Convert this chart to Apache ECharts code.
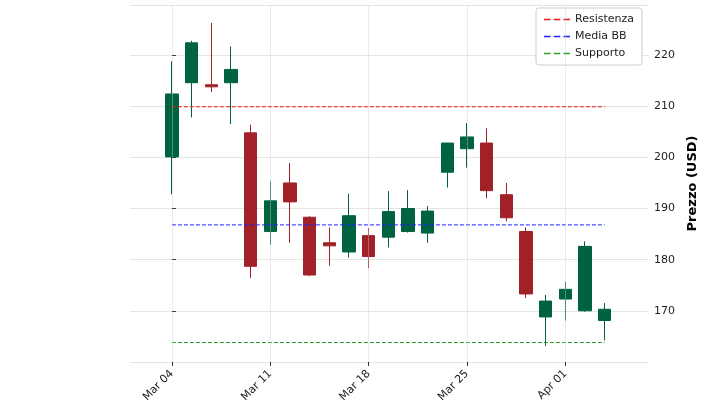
<!DOCTYPE html>
<html><head><meta charset="utf-8">
<script src="https://cdn.jsdelivr.net/npm/echarts@6/dist/echarts.min.js"></script>
<style>html,body{margin:0;padding:0;background:#fff}#c{width:720px;height:405px}</style>
</head><body><div id="c"></div>
<script>
const dates = ["Mar 04","Mar 05","Mar 06","Mar 07","Mar 08","Mar 11","Mar 12","Mar 13","Mar 14","Mar 15","Mar 18","Mar 19","Mar 20","Mar 21","Mar 22","Mar 25","Mar 26","Mar 27","Mar 28","Mar 29","Apr 01","Apr 02","Apr 03"];
const opens  = [200.5,215.0,214.6,215.0,205.2,185.9,195.4,188.7,183.7,181.9,185.1,184.8,185.9,185.6,197.5,202.1,203.2,193.1,185.9,169.2,172.7,170.4,168.5];
const closes = [212.8,222.8,214.2,217.6,179.1,191.9,191.7,177.4,183.1,189.0,181.0,189.8,190.4,189.9,203.2,204.4,193.9,188.6,173.7,172.3,174.6,183.0,170.7];
const lows   = [193.2,208.2,213.2,206.9,176.8,183.3,183.7,177.2,179.2,180.8,178.7,182.8,185.7,183.7,194.5,198.4,192.4,187.9,172.9,163.5,168.5,170.2,164.6];
const highs  = [219.2,223.2,226.7,222.1,206.8,195.7,199.3,188.9,186.7,193.3,186.6,193.8,194.0,190.9,203.2,207.1,206.1,195.4,186.7,173.5,176.0,184.0,171.9];
const resistenza = 210.3, mediaBB = 187.2, supporto = 164.2;
const tickIdx = [0,5,10,15,20];

const green = '#006340', red = '#A02128';
const data = dates.map((d,i)=>({value:[i,opens[i],closes[i],lows[i],highs[i]],
  itemStyle:{}}));
const hline = v => [[0,v],[dates.length-1,v]];
const chart = echarts.init(document.getElementById('c'));
chart.setOption({
  animation:false,
  grid:{left:130,right:72,top:5,bottom:37},
  legend:{right:78,top:8,orient:'vertical',itemGap:6,itemWidth:26,itemHeight:2,
    backgroundColor:'#fff',borderColor:'#ccc',borderWidth:1,borderRadius:3,padding:[6,8],
    textStyle:{fontFamily:'DejaVu Sans',fontSize:11,color:'#222'},
    data:[{name:'Resistenza',icon:'path://M0,0H4V1H0ZM6,0H10V1H6ZM12,0H16V1H12Z'},{name:'Media BB',icon:'path://M0,0H4V1H0ZM6,0H10V1H6ZM12,0H16V1H12Z'},{name:'Supporto',icon:'path://M0,0H4V1H0ZM6,0H10V1H6ZM12,0H16V1H12Z'}]},
  xAxis:{type:'value',min:-2.13,max:24.2,
    axisLine:{show:false},
    axisTick:{show:true,customValues:tickIdx,length:4,lineStyle:{color:'#333'}},
    splitLine:{show:false},
    axisLabel:{customValues:tickIdx,rotate:45,margin:10,fontFamily:'DejaVu Sans',fontSize:11,color:'#222',
      formatter:v=>dates[Math.round(v)]||''}},
  yAxis:{type:'value',position:'right',min:160.4,max:230.2,interval:10,
    name:'Prezzo (USD)',nameLocation:'middle',nameGap:38,nameRotate:90,
    nameTextStyle:{fontFamily:'DejaVu Sans',fontSize:13,fontWeight:'bold',color:'#000'},
    axisLine:{show:false},axisTick:{show:true,length:4,lineStyle:{color:'#333'}},
    axisLabel:{fontFamily:'DejaVu Sans',fontSize:11,color:'#222',margin:6,
      showMinLabel:false,showMaxLabel:false,formatter:v=>Math.round(v)},
    splitLine:{lineStyle:{color:'#ddd',width:0.8}}},
  series:[
    {type:'candlestick',name:'ohlc',barWidth:13,data:data,
     itemStyle:{color:green,color0:red,borderColor:green,borderColor0:red,borderWidth:1},
     markLine:{silent:true,symbol:'none',label:{show:false},
       data:tickIdx.map(i=>({xAxis:i})),
       lineStyle:{color:'#ccc',type:'dotted',width:0.8}}},
    {type:'line',name:'Resistenza',data:hline(resistenza),symbol:'none',lineStyle:{color:'#e41a1c',type:[4,2],width:1},itemStyle:{color:'#e41a1c'}},
    {type:'line',name:'Media BB',data:hline(mediaBB),symbol:'none',lineStyle:{color:'#1f1fff',type:[4,2],width:1},itemStyle:{color:'#1f1fff'}},
    {type:'line',name:'Supporto',data:hline(supporto),symbol:'none',lineStyle:{color:'#2ca02c',type:[4,2],width:1},itemStyle:{color:'#2ca02c'}}
  ]
});
</script></body></html>
